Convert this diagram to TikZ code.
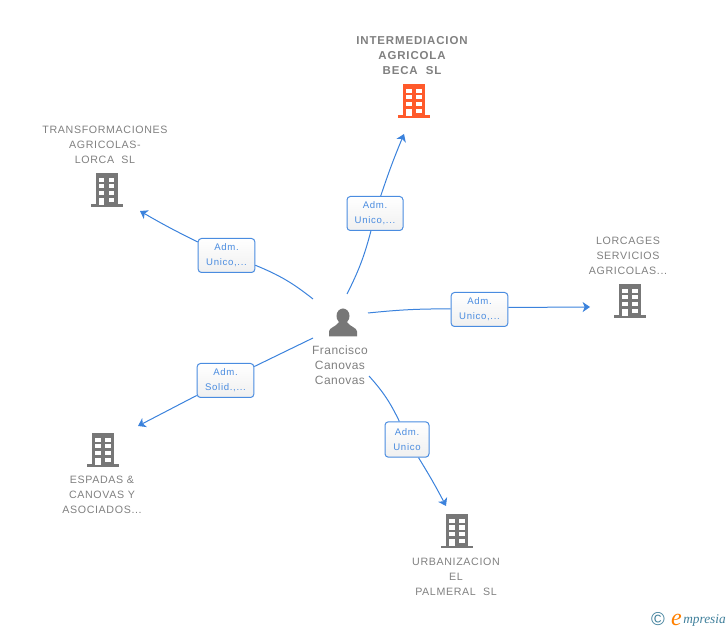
\documentclass[tikz,border=0pt]{standalone}
\usepackage{fontspec}
\setmainfont{Liberation Sans}
\usetikzlibrary{arrows.meta}
\definecolor{edgeblue}{HTML}{3B82DC}
\definecolor{boxblue}{HTML}{4A8CE0}
\definecolor{iconred}{HTML}{FF5A2B}
\definecolor{icongray}{HTML}{777777}
\definecolor{textgray}{HTML}{808080}
\definecolor{logoteal}{HTML}{3F7F9B}
\tikzset{
	building/.pic={
		\fill[#1] (-11,-17) rectangle (11,16);
		\fill[#1] (-16,14.5) rectangle (16,17);
		\foreach \x in {-7.7,2.2}{
			\foreach \y in {-12.3,-5.7,1.2}{
				\fill[white] (\x,\y) rectangle ++(5.5,4.2);
			}
		}
		\fill[white] (-7.7,8) rectangle (-2.2,15);
		\fill[white] (2.2,8) rectangle (7.7,12.2);
	},
	adm/.style={draw=boxblue, rounded corners=2.5pt, line width=0.75pt, top color=white, bottom color=black!6,
		text=boxblue, font=\fontsize{7.2pt}{11.2pt}\selectfont\addfontfeature{LetterSpace=7}, align=center, inner sep=0pt, minimum height=25.5pt},
	firm/.style={text=textgray, font=\fontsize{8pt}{11.25pt}\selectfont\addfontfeature{LetterSpace=6}, align=center, inner sep=0pt},
	link/.style={edgeblue, line width=0.75pt},
	tip/.style={link, -{Stealth[length=5.5pt,width=7.5pt,inset=1.5pt]}}
}
\begin{document}
\begin{tikzpicture}[x=0.75pt,y=-0.75pt]
	\useasboundingbox (0,0) rectangle (728,630);

	\node[firm, font=\bfseries\fontsize{8.6pt}{11.25pt}\selectfont\addfontfeature{LetterSpace=7.5}] (nameA) at (412,55.5) {INTERMEDIACION\\AGRICOLA\\BECA\ \ SL};
	\node[firm] (nameB) at (105,144.5) {TRANSFORMACIONES\\AGRICOLAS-\\LORCA\ \ SL};
	\node[firm] (nameC) at (628,255.5) {LORCAGES\\SERVICIOS\\AGRICOLAS...};
	\node[firm] (nameD) at (102,494.5) {ESPADAS \&\\CANOVAS Y\\ASOCIADOS...};
	\node[firm] (nameE) at (456,576.5) {URBANIZACION\\EL\\PALMERAL\ \ SL};
	\node[firm, font=\fontsize{9pt}{11.25pt}\selectfont\addfontfeature{LetterSpace=3.7}] (nameP) at (340,365.5) {Francisco\\Canovas\\Canovas};

	\pic (iconA) at (414,101) {building=iconred};
	\pic (iconB) at (106.5,190) {building=icongray};
	\pic (iconC) at (630,301) {building=icongray};
	\pic (iconD) at (103,450) {building=icongray};
	\pic (iconE) at (457,531) {building=icongray};

	% person
	\fill[icongray] (343,316) ellipse (6.5 and 7.5);
	\fill[icongray] (329,336.5) -- (329,331.5) .. controls (329,327.5) and (336,327) .. (339,322) -- (347,322) .. controls (350,327) and (357,327.5) .. (357,331.5) -- (357,336.5) -- cycle;

	\node[adm, minimum width=42pt] (admA) at (375,213.5) {Adm.\\Unico,...};
	\node[adm, minimum width=42.5pt] (admB) at (226.5,255.5) {Adm.\\Unico,...};
	\node[adm, minimum width=42.5pt] (admC) at (479.5,309.5) {Adm.\\Unico,...};
	\node[adm, minimum width=42.5pt] (admD) at (225.5,380.5) {Adm.\\Solid.,...};
	\node[adm, minimum width=33pt, minimum height=26.5pt] (admE) at (407,439.5) {Adm.\\Unico};

	\coordinate (fromA) at (347,294);
	\coordinate (fromB) at (313,299);
	\coordinate (fromC) at (368,313);
	\coordinate (fromD) at (313,338);
	\coordinate (fromE) at (369,376);
	\coordinate (toA) at (404,134);
	\coordinate (toB) at (140,211);
	\coordinate (toC) at (590,307);
	\coordinate (toD) at (138,426);
	\coordinate (toE) at (446,506);

	\draw[link] (fromA) to[bend right=6] (admA);
	\draw[tip] (admA) to[bend left=2] (toA);
	\draw[link] (fromB) to[bend right=8] (admB);
	\draw[tip] (admB) to[bend left=2] (toB);
	\draw[link] (fromC) to[bend left=3] (admC);
	\draw[tip] (admC.4) -- (toC);
	\draw[link] (fromD) -- (admD);
	\draw[tip] (admD) -- (toD);
	\draw[link] (fromE) to[bend left=8] (admE);
	\draw[tip] (admE) to[bend left=2] (toE);

	% logo
	\node[text=logoteal, inner sep=0pt, font=\fontsize{14pt}{14pt}\selectfont] (logoC) at (658,619) {©};
	\node[text=orange, anchor=base east, inner sep=0pt, font=\fontspec{Liberation Serif}\itshape\fontsize{18pt}{18pt}\selectfont] (logoE) at (682,625) {e};
	\node[text=logoteal, anchor=base west, inner sep=0pt, font=\fontspec{Liberation Serif}\itshape\fontsize{10pt}{10pt}\selectfont] (logoT) at (683,623) {mpresia};
\end{tikzpicture}
\end{document}
